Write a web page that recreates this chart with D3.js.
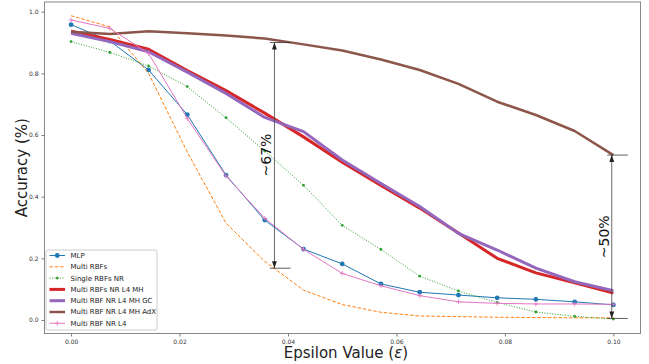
<!DOCTYPE html>
<html>
<head>
<meta charset="utf-8">
<script src="https://cdn.jsdelivr.net/npm/d3@7"></script>
<style>
  body { margin: 0; background: #fff; }
  svg { display: block; font-family: "DejaVu Sans", sans-serif; }
</style>
</head>
<body>
<svg id="chart" width="649" height="364"></svg>
<script>
// epsilon values (x)
const epsilon = [0, 0.00714, 0.01429, 0.02143, 0.02857, 0.03571, 0.04286, 0.05,
  0.05714, 0.06429, 0.07143, 0.07857, 0.08571, 0.09286, 0.1];

const mlp = [0.958, 0.905, 0.811, 0.666, 0.470, 0.324, 0.230, 0.182, 0.117, 0.090, 0.081, 0.072, 0.067, 0.059, 0.049];
const multiRbfs = [0.987, 0.951, 0.800, 0.545, 0.314, 0.190, 0.097, 0.050, 0.025, 0.013, 0.011, 0.009, 0.008, 0.007, 0.007];
const singleRbfsNr = [0.903, 0.868, 0.824, 0.757, 0.656, 0.548, 0.437, 0.307, 0.229, 0.142, 0.094, 0.057, 0.026, 0.012, 0.003];
const multiRbfsNrL4Mh = [0.937, 0.910, 0.878, 0.809, 0.744, 0.671, 0.594, 0.512, 0.436, 0.363, 0.282, 0.200, 0.153, 0.121, 0.087];
const multiRbfNrL4MhGc = [0.930, 0.903, 0.870, 0.804, 0.735, 0.657, 0.611, 0.519, 0.443, 0.368, 0.281, 0.227, 0.168, 0.124, 0.095];
const multiRbfNrL4MhAdx = [0.935, 0.928, 0.937, 0.930, 0.923, 0.913, 0.894, 0.874, 0.845, 0.811, 0.766, 0.708, 0.665, 0.613, 0.535];
const multiRbfNrL4 = [0.973, 0.946, 0.865, 0.654, 0.467, 0.330, 0.229, 0.151, 0.111, 0.079, 0.059, 0.054, 0.052, 0.052, 0.051];

const xTicks = [0, 0.02, 0.04, 0.06, 0.08, 0.10];
const yTicks = [0, 0.2, 0.4, 0.6, 0.8, 1.0];

// gap annotations (data units)
const gaps = [
  { x: 0.0375, lo: 0.168, hi: 0.900, label: '~67%', ly: 0.535 },
  { x: 0.0997, lo: 0.005, hi: 0.535, label: '~50%', ly: 0.270 }
];

const series = [
  { name: 'MLP', values: mlp, color: '#1f77b4', width: 1, dash: null, marker: 'circle' },
  { name: 'Multi RBFs', values: multiRbfs, color: '#ff7f0e', width: 1, dash: '3.5,1.8', marker: null },
  { name: 'Single RBFs NR', values: singleRbfsNr, color: '#2ca02c', width: 1, dash: '1,1.6', marker: 'dot' },
  { name: 'Multi RBFs NR L4 MH', values: multiRbfsNrL4Mh, color: '#d62728', width: 3, dash: null, marker: null },
  { name: 'Multi RBF NR L4 MH GC', values: multiRbfNrL4MhGc, color: '#9467bd', width: 3, dash: null, marker: null },
  { name: 'Multi RBF NR L4 MH AdX', values: multiRbfNrL4MhAdx, color: '#8c564b', width: 2.5, dash: null, marker: null },
  { name: 'Multi RBF NR L4', values: multiRbfNrL4, color: '#e377c2', width: 1, dash: null, marker: 'plus' }
];

const svg = d3.select('#chart');
const frame = { left: 44.5, right: 640.5, top: 2, bottom: 333.5 };

const xScale = d3.scaleLinear().domain([-0.0049, 0.105]).range([frame.left, frame.right]);
const yScale = d3.scaleLinear().domain([-0.0438, 1.0315]).range([frame.bottom, frame.top]);

// axes
const xAxis = svg.append('g')
  .attr('transform', `translate(0,${frame.bottom})`)
  .call(d3.axisBottom(xScale).tickValues(xTicks).tickFormat(d3.format('.2f')).tickSize(3).tickPadding(3));
const yAxis = svg.append('g')
  .attr('transform', `translate(${frame.left},0)`)
  .call(d3.axisLeft(yScale).tickValues(yTicks).tickFormat(d3.format('.1f')).tickSize(3).tickPadding(3));

[xAxis, yAxis].forEach(a => {
  a.select('.domain').remove();
  a.selectAll('.tick line').attr('stroke', '#444').attr('stroke-width', 0.7);
  a.selectAll('.tick text').attr('font-size', 6).attr('fill', '#333')
    .attr('font-family', '"DejaVu Sans", sans-serif');
});

svg.append('rect')
  .attr('x', frame.left).attr('y', frame.top)
  .attr('width', frame.right - frame.left).attr('height', frame.bottom - frame.top)
  .attr('fill', 'none').attr('stroke', '#888').attr('stroke-width', 1);

// axis labels
const xLabel = svg.append('text')
  .attr('x', 346).attr('y', 358)
  .attr('text-anchor', 'middle').attr('font-size', 15).attr('fill', '#222');
xLabel.append('tspan').text('Epsilon Value (');
xLabel.append('tspan').attr('font-style', 'italic').text('ε');
xLabel.append('tspan').text(')');

svg.append('text')
  .attr('transform', `translate(27,${(frame.top + frame.bottom) / 2}) rotate(-90)`)
  .attr('text-anchor', 'middle').attr('font-size', 15).attr('fill', '#222')
  .text('Accuracy (%)');

// lines
const line = d3.line()
  .x((d, i) => xScale(epsilon[i]))
  .y(d => yScale(d));

const drawMarker = (g, kind, color, x, y) => {
  if (kind === 'circle') {
    g.append('circle').attr('cx', x).attr('cy', y).attr('r', 2.4).attr('fill', color);
  } else if (kind === 'dot') {
    g.append('circle').attr('cx', x).attr('cy', y).attr('r', 1.4).attr('fill', color);
  } else if (kind === 'plus') {
    g.append('path').attr('d', `M${x - 2.5},${y}H${x + 2.5}M${x},${y - 2.5}V${y + 2.5}`)
      .attr('stroke', color).attr('stroke-width', 0.8);
  }
};

const plot = svg.append('g');
series.forEach(s => {
  plot.append('path')
    .datum(s.values)
    .attr('fill', 'none')
    .attr('stroke', s.color)
    .attr('stroke-width', s.width)
    .attr('stroke-dasharray', s.dash)
    .attr('stroke-linejoin', 'round')
    .attr('d', line);
  if (s.marker) {
    const mg = plot.append('g');
    s.values.forEach((v, i) => drawMarker(mg, s.marker, s.color, xScale(epsilon[i]), yScale(v)));
  }
});

// annotation arrows
const defs = svg.append('defs');
['start', 'end'].forEach(k => {
  defs.append('marker')
    .attr('id', 'arrow-' + k)
    .attr('viewBox', '0 0 10 10')
    .attr('refX', k === 'end' ? 10 : 0).attr('refY', 5)
    .attr('markerWidth', 7).attr('markerHeight', 7)
    .attr('markerUnits', 'userSpaceOnUse')
    .attr('orient', 'auto')
    .append('path')
    .attr('d', k === 'end' ? 'M0,1.5 L10,5 L0,8.5 Z' : 'M10,1.5 L0,5 L10,8.5 Z')
    .attr('fill', '#222');
});

gaps.forEach(gp => {
  const x = xScale(gp.x);
  plot.append('line')
    .attr('x1', x).attr('x2', x)
    .attr('y1', yScale(gp.lo)).attr('y2', yScale(gp.hi))
    .attr('stroke', '#444').attr('stroke-width', 0.8)
    .attr('marker-start', 'url(#arrow-start)')
    .attr('marker-end', 'url(#arrow-end)');
  [gp.lo, gp.hi].forEach(v => {
    plot.append('line')
      .attr('x1', x - 4.5).attr('x2', x + 16)
      .attr('y1', yScale(v)).attr('y2', yScale(v))
      .attr('stroke', '#333').attr('stroke-width', 0.8);
  });
  plot.append('text')
    .attr('transform', `translate(${x - 3},${yScale(gp.ly)}) rotate(-90)`)
    .attr('text-anchor', 'middle')
    .attr('font-size', 14)
    .attr('fill', '#111')
    .text(gp.label);
});

// legend
const legend = svg.append('g').attr('transform', 'translate(46,250)');
legend.append('rect')
  .attr('width', 111).attr('height', 80).attr('rx', 2)
  .attr('fill', 'white').attr('fill-opacity', 0.85)
  .attr('stroke', '#ccc').attr('stroke-width', 1);

series.forEach((s, i) => {
  const y = 5.5 + i * 11.3;
  const row = legend.append('g');
  row.append('line')
    .attr('x1', 3.5).attr('x2', 19)
    .attr('y1', y).attr('y2', y)
    .attr('stroke', s.color).attr('stroke-width', s.width)
    .attr('stroke-dasharray', s.dash);
  if (s.marker) drawMarker(row, s.marker, s.color, 11.25, y);
  row.append('text')
    .attr('x', 24.5).attr('y', y)
    .attr('dy', '0.35em')
    .attr('font-size', 7)
    .attr('fill', '#222')
    .text(s.name);
});
</script>
</body>
</html>
